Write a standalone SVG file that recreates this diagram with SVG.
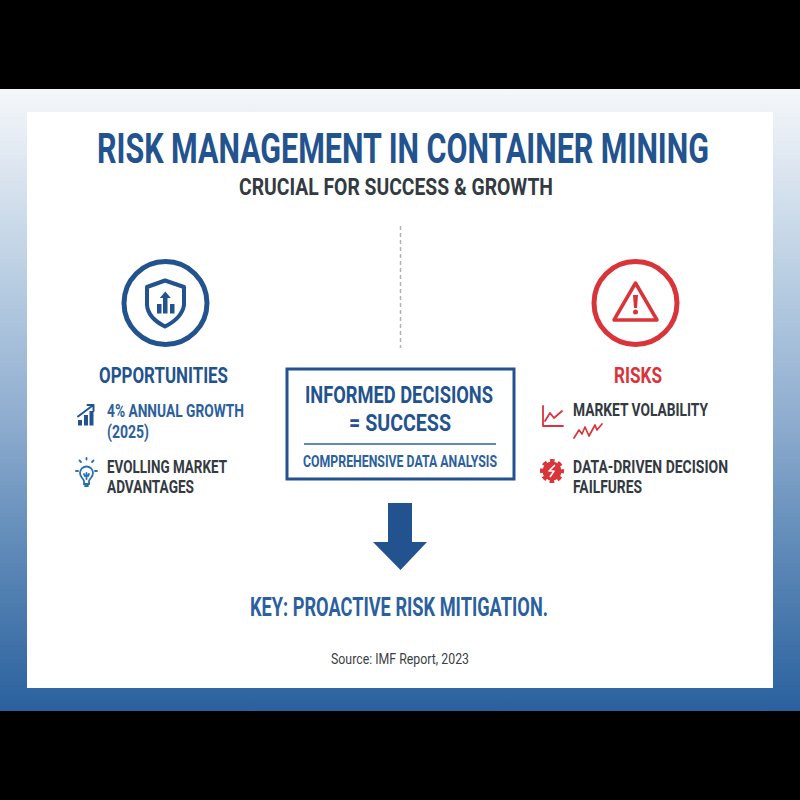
<svg xmlns="http://www.w3.org/2000/svg" width="800" height="800" viewBox="0 0 800 800">
<defs>
<linearGradient id="bg" x1="0" y1="0" x2="0" y2="1"><stop offset="0" stop-color="#f5f7fa"/><stop offset="0.31" stop-color="#b8cde2"/><stop offset="0.53" stop-color="#8fadcf"/><stop offset="0.74" stop-color="#5f8ab8"/><stop offset="1" stop-color="#2a619e"/></linearGradient>
</defs>
<style>
text{font-family:"Roboto","Liberation Sans",sans-serif;font-weight:700}
.b{fill:#23538f}.m{fill:#2c5f9e}.d{fill:#333a42}.r{fill:#d9343a}
.ls{fill:none;stroke:#23538f;stroke-linecap:round;stroke-linejoin:round}
.lr{fill:none;stroke:#d9343a;stroke-linecap:round;stroke-linejoin:round}
</style>
<rect width="800" height="800" fill="#000"/>
<rect x="0" y="89" width="800" height="622" fill="url(#bg)"/>
<rect x="27" y="112" width="746" height="576" fill="#fff"/>
<g id="title">
<text class="b" transform="translate(97 163) scale(0.8 1)" font-size="42" textLength="765" lengthAdjust="spacingAndGlyphs">RISK MANAGEMENT IN CONTAINER MINING</text>
<text class="d" x="239" y="195" font-size="24" textLength="314" lengthAdjust="spacingAndGlyphs">CRUCIAL FOR SUCCESS &amp; GROWTH</text>
</g>
<g id="connectors">
<line x1="400.500" y1="226" x2="400.500" y2="348" stroke="#b0b3b6" stroke-width="1.500" stroke-dasharray="4 3"/>
<path fill="#23538f" d="M388 503H412V542H427L400.500 570L373 542H388Z"/>
</g>
<g id="opportunities">
<circle cx="165.500" cy="303" r="41.500" fill="none" stroke="#23538f" stroke-width="5"/>
<path class="ls" stroke-width="4" d="M165 280.500L147 287V305Q148 318 165 326.500Q182 318 184 305V287Z"/>
<path fill="#23538f" d="M157 304h4.500v9.500H157zM163 296h4.500v17.500H163zM170 304h4.500v9.500H170z"/>
<path fill="#23538f" d="M165.300 291.500l5.500 6.500h-11z"/>
<text class="b" x="99" y="383" font-size="22.500" textLength="129" lengthAdjust="spacingAndGlyphs">OPPORTUNITIES</text>
<path fill="#23538f" d="M78 420h4v5.500h-4zM84 415h4v10.500h-4zM89.500 411h4v14.500h-4z"/>
<path class="ls" stroke-width="2" d="M78 416.500L92 406M87.500 405H93.500V411"/>
<text class="m" x="107" y="417" font-size="18" textLength="137" lengthAdjust="spacingAndGlyphs">4% ANNUAL GROWTH</text>
<text class="m" x="107" y="438" font-size="18" textLength="42" lengthAdjust="spacingAndGlyphs">(2025)</text>
<path fill="none" stroke="#2c6fb0" stroke-width="1.800" stroke-linecap="round" transform="translate(3 0)" d="M86 481v3h-5v-3c-1-3-4-4-4-8a6.500 6.500 0 0 1 13 0c0 4-3 5-4 8zM82 486h3M78 462l-1.500-1.500M89 462l1.500-1.500M83.500 459.500v-1.500M75 471h-2M94 471h-2M83.500 479v-6M81 474l1 2M86 474l-1 2"/>
<text class="d" x="107" y="473" font-size="18" textLength="120" lengthAdjust="spacingAndGlyphs">EVOLLING MARKET</text>
<text class="d" x="107" y="493" font-size="18" textLength="87" lengthAdjust="spacingAndGlyphs">ADVANTAGES</text>
</g>
<g id="center">
<rect x="287" y="369" width="227" height="110" fill="#fff" stroke="#23538f" stroke-width="3"/>
<text class="b" x="305" y="403" font-size="24" textLength="188" lengthAdjust="spacingAndGlyphs">INFORMED DECISIONS</text>
<text class="b" x="349" y="431" font-size="24" textLength="102" lengthAdjust="spacingAndGlyphs">= SUCCESS</text>
<line x1="304" y1="444" x2="496" y2="444" stroke="#2c5f9e" stroke-width="1.500"/>
<text class="m" x="303" y="467" font-size="16.500" textLength="194" lengthAdjust="spacingAndGlyphs">COMPREHENSIVE DATA ANALYSIS</text>
</g>
<g id="risks">
<circle cx="635.500" cy="303" r="41.500" fill="none" stroke="#d9343a" stroke-width="5"/>
<path class="lr" stroke-width="3.500" d="M635.500 283L614 320H657Z"/>
<path fill="#d9343a" d="M633 295h5l-1 13h-3z"/>
<circle cx="635.500" cy="312" r="2.500" fill="#d9343a"/>
<text class="r" x="614" y="383" font-size="22.500" textLength="48" lengthAdjust="spacingAndGlyphs">RISKS</text>
<path class="lr" stroke-width="1.800" d="M543 406V426H563M545 421L550 413L554 418L562 411"/>
<text class="d" x="573" y="416" font-size="18" textLength="135" lengthAdjust="spacingAndGlyphs">MARKET VOLABILITY</text>
<path class="lr" stroke-width="1.700" d="M574 438L579 430L582 434L585 427L589 436L595 425L597 430L602 424"/>
<circle cx="552" cy="471" r="9.500" fill="#d9343a"/>
<circle cx="552" cy="471" r="10.500" fill="none" stroke="#d9343a" stroke-width="3" stroke-dasharray="4.700 3.550" stroke-dashoffset="2.350"/>
<path fill="none" stroke="#fff" stroke-width="1.600" stroke-linejoin="round" d="M555 465L549 471H554L550 477"/>
<text class="d" x="573" y="473" font-size="18" textLength="155" lengthAdjust="spacingAndGlyphs">DATA-DRIVEN DECISION</text>
<text class="d" x="573" y="493" font-size="18" textLength="69" lengthAdjust="spacingAndGlyphs">FAILFURES</text>
</g>
<g id="footer">
<text class="m" x="250" y="616" font-size="25" textLength="298" lengthAdjust="spacingAndGlyphs">KEY: PROACTIVE RISK MITIGATION.</text>
<text x="331" y="664" font-size="14.500" fill="#3a3f45" style="font-weight:400" textLength="138" lengthAdjust="spacingAndGlyphs">Source: IMF Report, 2023</text>
</g>
</svg>
